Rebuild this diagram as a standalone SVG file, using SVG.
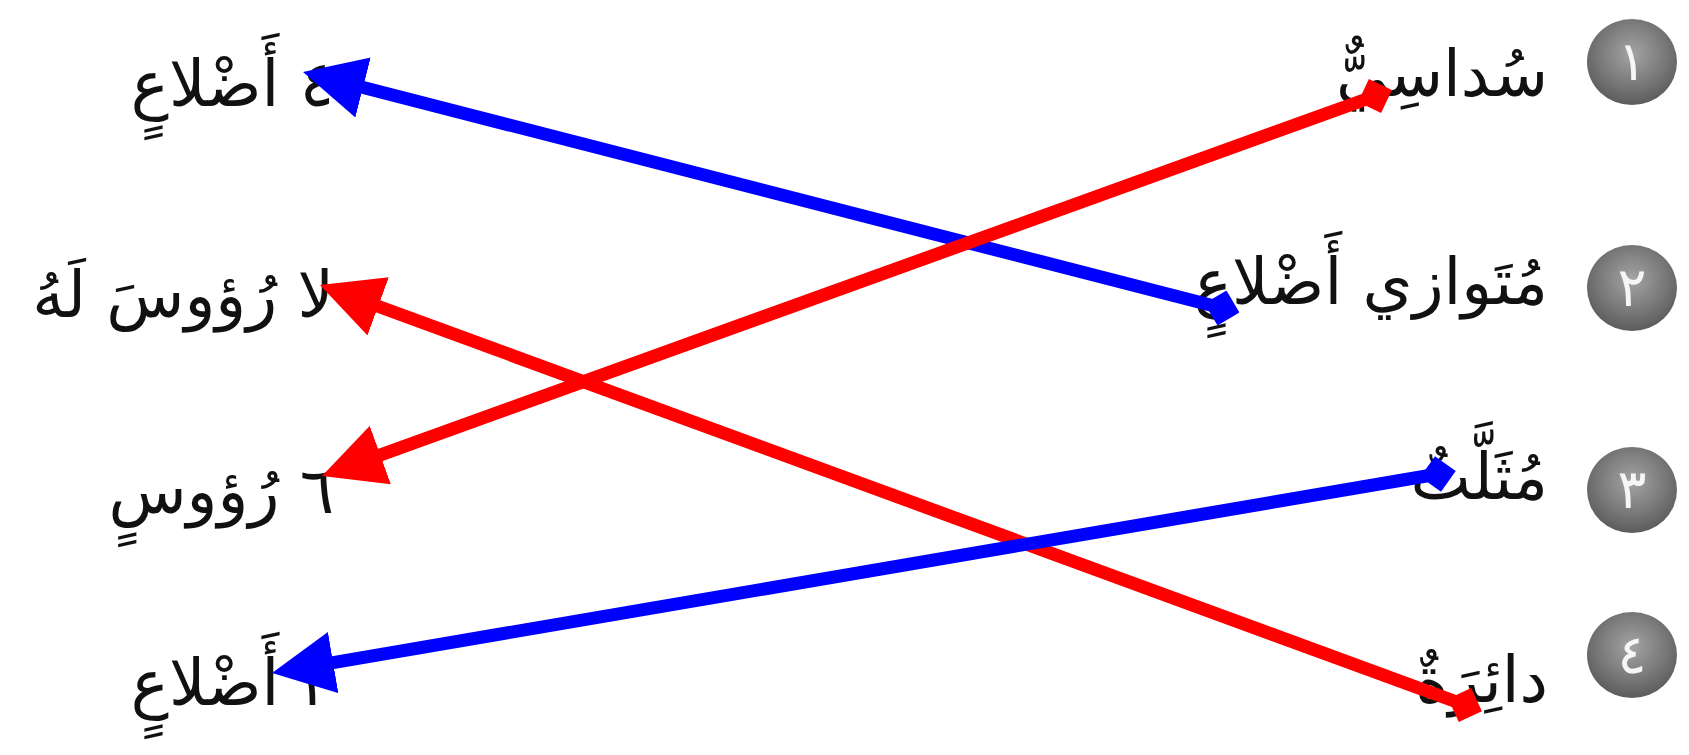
<svg xmlns="http://www.w3.org/2000/svg" width="1689" height="755" viewBox="0 0 1689 755">
  <style>
    .lbl { font-family: "DejaVu Sans", sans-serif; font-size: 64px; fill: #111; direction: rtl; text-anchor: start; }
    .num { font-family: "DejaVu Sans", sans-serif; font-size: 54px; fill: #f6f6f6; text-anchor: middle; }
    .blue { stroke: #0000FF; stroke-width: 13; fill: none; }
    .red { stroke: #FF0000; stroke-width: 13; fill: none; }
  </style>
  <defs>
    <radialGradient id="ball" cx="0.5" cy="0.4" r="0.6">
      <stop offset="0" stop-color="#a4a4a4"/>
      <stop offset="0.6" stop-color="#7a7a7a"/>
      <stop offset="1" stop-color="#5c5c5c"/>
    </radialGradient>
    <marker id="headBlue" markerUnits="userSpaceOnUse" viewBox="0 0 62 62" markerWidth="62" markerHeight="62" refX="46" refY="31" orient="auto">
      <path d="M0,0 L62,31 L0,62 z" fill="#0000FF"/>
    </marker>
    <marker id="headRed" markerUnits="userSpaceOnUse" viewBox="0 0 62 62" markerWidth="62" markerHeight="62" refX="46" refY="31" orient="auto">
      <path d="M0,0 L62,31 L0,62 z" fill="#FF0000"/>
    </marker>
    <marker id="tailBlue" markerUnits="userSpaceOnUse" viewBox="0 0 36 36" markerWidth="36" markerHeight="36" refX="18" refY="18" orient="auto">
      <path d="M0,18 L18,0 L36,18 L18,36 z" fill="#0000FF"/>
    </marker>
    <marker id="tailRed" markerUnits="userSpaceOnUse" viewBox="0 0 36 36" markerWidth="36" markerHeight="36" refX="18" refY="18" orient="auto">
      <path d="M0,18 L18,0 L36,18 L18,36 z" fill="#FF0000"/>
    </marker>
  </defs>
  <rect width="1689" height="755" fill="#fff"/>

  <g id="right-1">
    <ellipse cx="1632" cy="62" rx="45" ry="43" fill="url(#ball)"/>
    <text class="num" x="1632" y="80">١</text>
    <text class="lbl" x="1548" y="96">سُداسِيٌّ</text>
  </g>
  <g id="right-2">
    <ellipse cx="1632" cy="288" rx="45" ry="43" fill="url(#ball)"/>
    <text class="num" x="1632" y="306">٢</text>
    <text class="lbl" x="1548" y="304">مُتَوازي أَضْلاعٍ</text>
  </g>
  <g id="right-3">
    <ellipse cx="1632" cy="490" rx="45" ry="43" fill="url(#ball)"/>
    <text class="num" x="1632" y="508">٣</text>
    <text class="lbl" x="1548" y="499">مُثَلَّثٌ</text>
  </g>
  <g id="right-4">
    <ellipse cx="1632" cy="655" rx="45" ry="43" fill="url(#ball)"/>
    <text class="num" x="1632" y="673">٤</text>
    <text class="lbl" x="1548" y="702">دائِرَةٌ</text>
  </g>

  <g id="left-1">
    <text class="lbl" x="334" y="106">٤ أَضْلاعٍ</text>
  </g>
  <g id="left-2">
    <text class="lbl" x="334" y="317">لا رُؤوسَ لَهُ</text>
  </g>
  <g id="left-3">
    <text class="lbl" x="334" y="513">٦ رُؤوسٍ</text>
  </g>
  <g id="left-4">
    <text class="lbl" x="334" y="705">٣ أَضْلاعٍ</text>
  </g>

  <g id="connectors">
    <line class="blue" x1="1222" y1="308" x2="318.5" y2="76" marker-start="url(#tailBlue)" marker-end="url(#headBlue)"/>
    <line class="red" x1="1375" y1="96" x2="337.05" y2="470.6" marker-start="url(#tailRed)" marker-end="url(#headRed)"/>
    <line class="red" x1="1465" y1="705" x2="335" y2="290.5" marker-start="url(#tailRed)" marker-end="url(#headRed)"/>
    <line class="blue" x1="1438" y1="474" x2="287.8" y2="670.3" marker-start="url(#tailBlue)" marker-end="url(#headBlue)"/>
  </g>
</svg>
